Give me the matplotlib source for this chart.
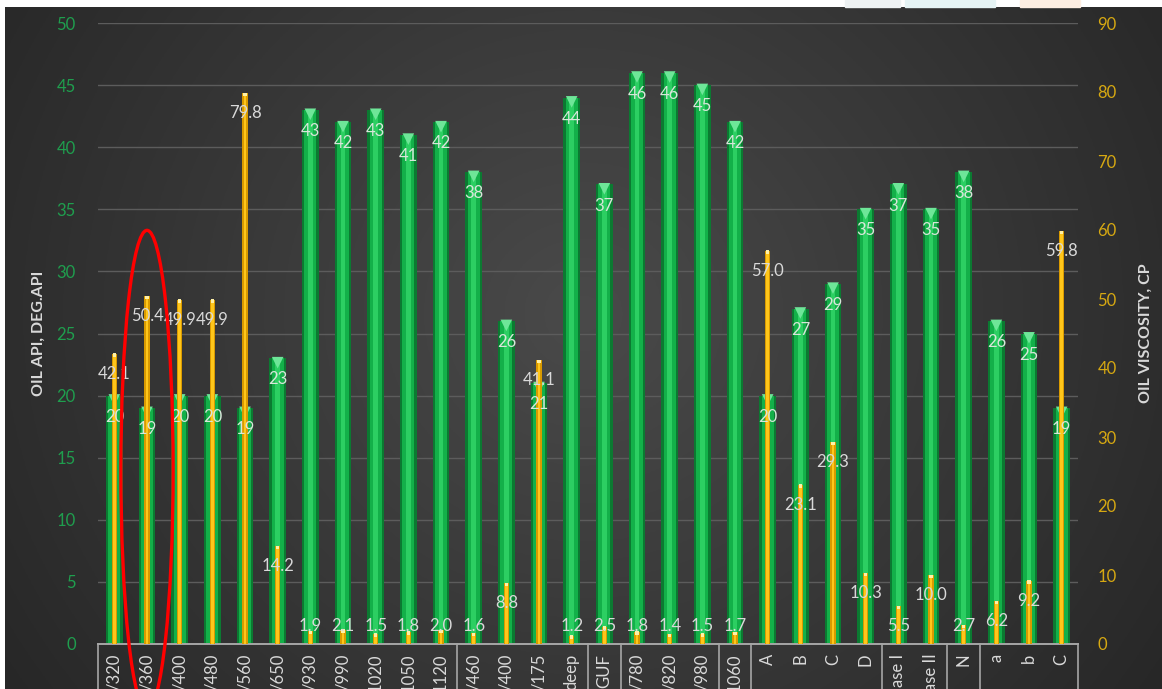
import numpy as np
import matplotlib.pyplot as plt
from matplotlib.patches import Ellipse, Rectangle
import matplotlib.transforms as mtransforms

plt.rcParams['font.family'] = ['Lato', 'DejaVu Sans']

# категории (подписи обрезаны снизу)
labels = ['/320', '/360', '/400', '/480', '/560', '/650', '/930', '/990', '1020', '1050',
          '1120', '/460', '/400', '/175', 'deep', 'GUF', '/780', '/820', '/980', '1060',
          'A', 'B', 'C', 'D', 'ase I', 'ase II', 'N', 'a', 'b', 'C']
# плотность нефти, град. API
api = [20, 19, 20, 20, 19, 23, 43, 42, 43, 41, 42, 38, 26, 21, 44,
       37, 46, 46, 45, 42, 20, 27, 29, 35, 37, 35, 38, 26, 25, 19]
# вязкость нефти, сП
visc = [42.1, 50.4, 49.9, 49.9, 79.8, 14.2, 1.9, 2.1, 1.5, 1.8, 2.0, 1.6, 8.8, 41.1, 1.2,
        2.5, 1.8, 1.4, 1.5, 1.7, 57.0, 23.1, 29.3, 10.3, 5.5, 10.0, 2.7, 6.2, 9.2, 59.8]
# границы групп на оси категорий
group_edges = [0, 11, 15, 16, 19, 20, 24, 26, 27, 30]

x = np.arange(len(labels))

fig = plt.figure(figsize=(11.62, 6.89), dpi=100)
fig.patch.set_facecolor('white')

# фон - темный градиент
bg = fig.add_axes([5 / 1162, 0, 1 - 5 / 1162, 1 - 7 / 689])
gx, gy = np.meshgrid(np.linspace(0, 1, 400), np.linspace(0, 1, 300))
r = np.sqrt(((gx - 0.5) / 0.62) ** 2 + ((gy - 0.45) / 1.0) ** 2)
shade = np.clip(0.29 - 0.14 * r, 0.14, 0.3)
bg.imshow(np.dstack([shade, shade, shade]), aspect='auto', extent=[0, 1, 0, 1])
bg.axis('off')

# пятна фона слайда сверху справа
for x0, w, c in [(845, 55, '#eef2f3'), (905, 90, '#e6f4f5'), (1020, 60, '#fdeee2')]:
    fig.patches.append(Rectangle((x0 / 1162, 1 - 7 / 689), w / 1162, 7 / 689,
                                 transform=fig.transFigure, color=c, zorder=0))

ax = fig.add_axes([98 / 1162, 1 - 644 / 689, 980 / 1162, 621 / 689])
ax.set_facecolor('none')
ax2 = ax.twinx()
ax2.set_facecolor('none')

# зеленые столбцы (API) - имитация объема
ax.bar(x, api, width=0.52, color='#0b7a31', zorder=2)
ax.bar(x, api, width=0.36, color='#13b049', zorder=3)
ax.bar(x, api, width=0.14, color='#2ccf62', zorder=4)
ax.scatter(x, np.array(api) - 0.35, marker='v', s=70, color='#6ee698',
           edgecolors='none', zorder=5)

# желтые столбцы (вязкость)
ax2.bar(x, visc, width=0.17, color='#d99a00', zorder=2)
ax2.bar(x, visc, width=0.08, color='#ffc61a', zorder=3)
ax2.scatter(x, np.array(visc) - 0.2, marker='s', s=6, color='#fff1a8',
            edgecolors='none', zorder=4)

ax.set_xlim(-0.5, len(labels) - 0.5)
ax.set_ylim(0, 50)
ax2.set_ylim(0, 90)
ax.set_yticks(np.arange(0, 51, 5))
ax2.set_yticks(np.arange(0, 91, 10))
ax.yaxis.grid(True, color='#5c5c5c', linewidth=1.0)
ax.set_axisbelow(True)

for a in (ax, ax2):
    for s in ('top', 'left', 'right', 'bottom'):
        a.spines[s].set_visible(False)
ax.axhline(0, color='#a6a6a6', linewidth=1.4, zorder=6, clip_on=False)

ax.tick_params(axis='y', length=0, pad=16, labelsize=12, labelcolor='#1f9e4e')
ax2.tick_params(axis='y', length=0, pad=14, labelsize=12, labelcolor='#d6a812')
ax.set_xticks(x)
ax.set_xticklabels(labels, rotation=90, va='top', ha='center', fontsize=12, color='#d9d9d9')
ax.tick_params(axis='x', length=0, pad=7)

# рамка подписей категорий
trans = mtransforms.blended_transform_factory(ax.transData, ax.transAxes)
for k in group_edges:
    ax.plot([k - 0.5, k - 0.5], [0, -0.12], color='#a6a6a6', linewidth=1.2,
            transform=trans, clip_on=False, zorder=6)

ax.set_ylabel('OIL API, DEG.API', color='#d9d9d9', fontsize=11.5, fontweight='bold', labelpad=8)
ax2.set_ylabel('OIL VISCOSITY, CP', color='#d9d9d9', fontsize=11.5, fontweight='bold', labelpad=16)

# подписи значений
for xi, v in zip(x, api):
    ax2.text(xi, v - 1.7, f'{v}', transform=ax.transData, ha='center', va='center',
             fontsize=12, color='#d8e6da', zorder=10)
for xi, v in zip(x, visc):
    ax2.text(xi, max(v - 2.9, 2.6), f'{v:.1f}', ha='center', va='center',
             fontsize=12, color='#d9d9d9', zorder=10)

# выделение красным овалом
ax2.add_patch(Ellipse((1, 25.2), 1.6, 69.5, fill=False, edgecolor='#ff0000',
                      linewidth=2.4, zorder=20, clip_on=False))

fig.savefig('out.png', dpi=100)
